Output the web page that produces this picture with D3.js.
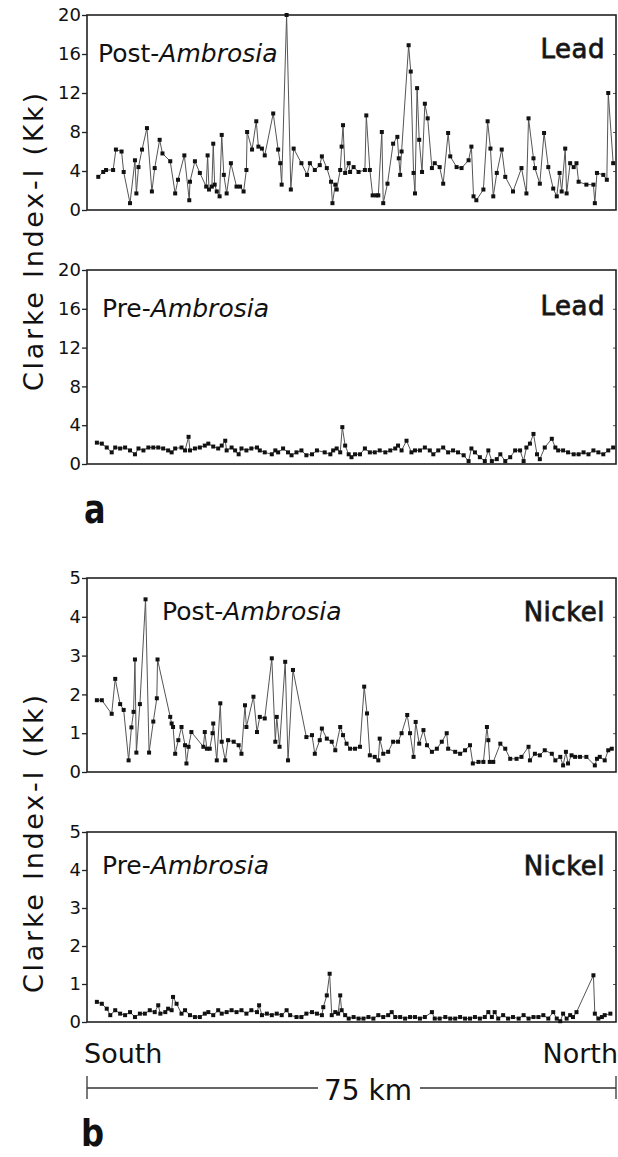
<!DOCTYPE html>
<html>
<head>
<meta charset="utf-8">
<script src="https://cdn.jsdelivr.net/npm/d3@7"></script>
<style>
  body { margin: 0; background: #fff; }
  svg text { font-family: "DejaVu Sans", sans-serif; fill: #111; }
</style>
</head>
<body>
<svg class="chart"></svg>
<script>
// sample position along the transect (km from south end) and Clarke index
var leadPost = [
  [1.6,3.4],[2.3,3.9],[2.7,4.1],[3.7,4.1],[4.1,6.2],[4.9,6.0],[5.2,3.9],[6.1,0.7],[6.8,5.1],[7.0,1.7],
  [7.3,4.4],[7.8,6.2],[8.5,8.4],[9.2,1.9],[9.6,4.3],[10.3,7.2],[10.7,5.8],[11.8,5.0],[12.5,1.7],[12.9,3.1],
  [13.8,5.6],[14.5,1.0],[14.6,2.9],[15.3,5.0],[16.0,3.8],[16.9,2.4],[17.1,5.6],[17.3,2.1],[17.7,2.4],[17.9,6.8],
  [18.1,2.6],[18.4,1.9],[18.8,1.4],[19.1,7.7],[19.4,3.6],[19.8,1.7],[20.4,4.8],[21.2,2.4],[21.7,2.4],[22.2,1.9],
  [22.6,4.1],[22.7,8.0],[23.4,6.2],[24.0,9.1],[24.3,6.5],[24.8,6.3],[25.2,5.6],[26.4,9.9],[27.1,6.2],[27.4,4.8],
  [27.6,2.6],[28.3,20],[28.9,2.1],[29.3,6.3],[30.4,4.8],[31.2,3.6],[31.6,4.8],[32.3,4.1],[33.0,4.6],[33.3,5.5],
  [34.0,4.3],[34.6,2.9],[34.8,0.7],[35.2,2.6],[35.4,2.1],[35.9,4.1],[36.1,6.5],[36.3,8.7],[36.6,3.8],[37.1,4.8],
  [37.3,3.9],[37.8,4.4],[38.5,3.9],[39.4,4.1],[39.6,9.7],[40.1,4.1],[40.5,1.5],[41.0,1.5],[41.3,1.5],[41.8,8.0],
  [42.0,0.7],[42.6,2.7],[43.4,6.8],[44.0,7.5],[44.2,5.3],[44.4,3.6],[44.6,6.0],[45.6,16.9],[45.9,14.2],[46.3,3.8],
  [46.5,1.7],[46.8,12.5],[47.1,7.2],[47.5,3.9],[47.9,10.9],[48.3,9.4],[48.9,4.3],[49.3,4.8],[50.0,4.4],[50.5,2.7],
  [51.2,7.9],[51.5,5.5],[52.4,4.4],[53.1,4.3],[54.1,5.1],[54.5,6.5],[54.8,1.4],[55.2,1.0],[56.2,2.1],[56.8,9.1],
  [57.2,6.3],[57.6,1.4],[58.1,3.8],[58.8,6.2],[59.3,3.4],[60.4,1.9],[61.6,4.3],[62.3,1.7],[62.6,9.4],[63.3,5.3],
  [63.5,4.3],[64.2,2.7],[64.8,7.9],[65.4,4.4],[66.1,2.2],[66.6,1.4],[67.0,3.8],[67.3,1.9],[67.8,6.3],[68.0,1.7],
  [68.5,4.8],[69.0,4.4],[69.4,4.8],[69.7,2.9],[70.8,2.6],[71.8,2.6],[72.0,0.7],[72.3,3.8],[73.2,3.6],[73.7,3.1],
  [73.9,12.0],[74.6,4.8]
];

var leadPre = [
  [1.4,2.2],[2.1,2.1],[2.8,1.7],[3.5,1.2],[4.0,1.7],[4.7,1.6],[5.4,1.7],[6.1,1.4],[6.8,1.0],[7.3,1.6],
  [8.0,1.4],[8.7,1.7],[9.4,1.7],[10.1,1.7],[10.8,1.6],[11.5,1.4],[12.0,1.2],[12.5,1.6],[13.4,1.7],[13.9,1.4],
  [14.4,2.8],[14.6,1.4],[15.3,1.6],[16.0,1.7],[16.7,1.9],[17.2,2.1],[17.9,1.8],[18.6,1.6],[19.1,1.9],[19.6,2.4],
  [19.8,1.4],[20.5,1.7],[21.0,1.4],[21.5,1.0],[21.9,1.6],[22.6,1.4],[23.3,1.6],[24.1,1.7],[24.5,1.4],[25.2,1.2],
  [26.2,1.0],[26.7,1.4],[27.1,1.2],[27.8,1.6],[28.5,1.2],[29.0,0.9],[29.7,1.2],[30.4,1.4],[31.1,0.9],[31.9,1.0],
  [32.6,1.4],[33.7,1.2],[34.5,1.0],[34.9,1.4],[35.4,1.6],[35.9,1.2],[36.2,3.8],[36.6,1.9],[37.1,1.0],[37.5,0.7],
  [38.0,1.0],[38.7,1.0],[39.4,1.6],[40.1,1.2],[40.8,1.2],[41.5,1.4],[42.3,1.2],[43.0,1.4],[43.7,1.6],[44.1,1.9],
  [44.6,1.4],[45.3,2.4],[46.0,1.2],[46.5,1.4],[47.2,1.4],[47.9,1.7],[48.6,1.4],[49.1,1.0],[49.8,1.4],[50.5,1.7],
  [51.2,1.2],[51.9,1.4],[52.6,1.2],[53.4,0.9],[54.1,0.3],[54.5,1.6],[55.0,1.2],[55.7,0.7],[56.4,0.3],[56.9,1.4],
  [57.4,0.3],[58.1,0.5],[58.6,1.0],[59.3,0.3],[60.0,0.7],[60.7,1.4],[61.4,1.4],[61.9,0.3],[62.3,1.7],[62.8,2.1],
  [63.3,3.1],[63.8,1.0],[64.2,0.5],[64.9,1.7],[65.9,2.6],[66.4,1.7],[66.8,1.4],[67.5,1.4],[68.2,1.2],[69.0,1.0],
  [69.7,1.0],[70.4,1.2],[71.1,1.0],[71.8,1.4],[72.5,1.2],[73.2,1.0],[73.9,1.4],[74.6,1.7]
];

var nickelPost = [
  [1.4,1.85],[2.1,1.85],[3.5,1.5],[4.0,2.4],[4.7,1.75],[5.2,1.6],[5.9,0.3],[6.3,1.15],[6.6,1.55],[6.8,2.9],
  [7.0,0.5],[7.5,1.75],[8.3,4.45],[8.8,0.5],[9.4,1.3],[9.9,1.9],[10.0,2.9],[11.8,1.42],[12.0,1.25],[12.2,1.16],
  [12.5,0.47],[12.95,0.82],[13.4,1.16],[13.9,0.69],[14.1,0.22],[14.4,0.65],[14.8,1.03],[16.5,0.65],[16.7,1.03],[17.0,0.6],
  [17.4,0.6],[17.8,1.0],[17.9,1.25],[18.4,0.3],[18.9,1.77],[19.1,0.78],[19.6,0.3],[20.0,0.82],[20.8,0.78],[21.5,0.69],
  [21.9,0.47],[22.4,1.72],[22.6,1.16],[23.6,1.94],[24.1,1.03],[24.5,1.42],[25.2,1.38],[26.2,2.93],[26.7,0.78],[26.9,1.42],
  [27.3,0.65],[28.1,2.84],[28.5,0.3],[29.2,2.63],[31.1,0.9],[31.9,0.95],[32.3,0.47],[33.0,0.82],[33.3,1.12],[34.0,0.86],
  [34.7,0.78],[35.2,0.56],[35.9,1.16],[36.3,0.95],[36.8,0.73],[37.3,0.6],[38.0,0.6],[38.7,0.65],[39.3,2.2],[39.7,1.51],
  [40.1,0.43],[40.8,0.39],[41.3,0.3],[41.5,0.86],[42.0,0.47],[42.7,0.52],[43.4,0.78],[44.1,0.78],[44.6,1.0],[45.4,1.47],
  [45.8,1.0],[46.3,0.39],[46.6,1.29],[47.1,0.73],[47.7,1.08],[48.2,0.69],[48.9,0.52],[49.6,0.6],[50.3,0.78],[51.0,1.0],
  [51.2,0.6],[52.2,0.52],[52.9,0.47],[53.6,0.56],[54.3,0.69],[54.7,0.22],[55.5,0.26],[56.2,0.26],[56.7,1.16],[56.9,0.82],
  [57.1,0.26],[57.6,0.26],[58.6,0.73],[59.3,0.6],[60.0,0.34],[60.9,0.34],[61.6,0.39],[62.6,0.65],[62.8,0.3],[63.5,0.47],
  [64.2,0.43],[64.9,0.56],[65.9,0.47],[66.4,0.3],[67.1,0.39],[67.5,0.17],[67.9,0.52],[68.2,0.22],[68.7,0.43],[69.2,0.39],
  [69.9,0.39],[70.8,0.39],[72.0,0.17],[72.3,0.34],[72.7,0.39],[73.4,0.3],[73.9,0.56],[74.4,0.6]
];

var nickelPre = [
  [1.4,0.53],[2.1,0.48],[2.8,0.35],[3.3,0.18],[4.0,0.31],[4.7,0.22],[5.4,0.18],[6.1,0.26],[6.8,0.13],[7.5,0.22],
  [8.2,0.22],[8.9,0.31],[9.6,0.26],[10.1,0.44],[10.4,0.22],[11.1,0.26],[11.5,0.35],[12.0,0.31],[12.2,0.66],[12.7,0.48],
  [13.4,0.22],[13.9,0.31],[14.6,0.18],[15.3,0.13],[16.0,0.13],[16.7,0.22],[17.2,0.26],[17.9,0.18],[18.6,0.31],[19.1,0.22],
  [19.8,0.26],[20.5,0.31],[21.2,0.26],[21.9,0.31],[22.6,0.22],[23.3,0.31],[24.1,0.26],[24.4,0.44],[24.8,0.18],[25.5,0.22],
  [26.2,0.18],[26.9,0.22],[27.6,0.18],[28.3,0.31],[28.8,0.18],[29.7,0.13],[30.4,0.13],[31.1,0.22],[31.9,0.26],[32.6,0.22],
  [33.3,0.18],[33.5,0.39],[34.0,0.7],[34.4,1.27],[34.7,0.18],[35.2,0.26],[35.6,0.22],[35.9,0.7],[36.1,0.31],[36.6,0.18],
  [37.1,0.09],[37.8,0.13],[38.5,0.09],[39.2,0.09],[39.9,0.13],[40.6,0.09],[41.3,0.18],[42.0,0.13],[42.7,0.18],[43.2,0.26],
  [43.7,0.13],[44.4,0.13],[45.1,0.09],[45.8,0.13],[46.5,0.13],[47.2,0.09],[47.9,0.13],[48.9,0.26],[49.3,0.09],[50.0,0.09],
  [50.8,0.13],[51.5,0.09],[52.2,0.09],[52.9,0.13],[53.6,0.09],[54.3,0.09],[55.0,0.13],[55.7,0.09],[56.4,0.13],[56.9,0.26],
  [57.4,0.13],[57.8,0.26],[58.3,0.09],[59.0,0.18],[59.7,0.09],[60.4,0.13],[61.2,0.09],[61.9,0.18],[62.6,0.09],[63.3,0.13],
  [64.0,0.13],[64.7,0.18],[65.4,0.09],[66.1,0.26],[66.6,0.09],[67.1,0.02],[67.5,0.22],[68.0,0.09],[68.5,0.18],[68.9,0.13],
  [69.4,0.26],[71.8,1.23],[72.0,0.22],[72.5,0.09],[73.0,0.13],[73.4,0.18],[74.2,0.22]
];

var leadTicks = [0, 4, 8, 12, 16, 20];
var nickelTicks = [0, 1, 2, 3, 4, 5];
var transectKm = 75;

const canvas = {width: 618, height: 1157};
const plot = {left: 87, right: 616};

// one entry per panel: layout only
var panels = [
  {data: leadPost,   max: 20, ticks: leadTicks,   top: 15,  bottom: 210,  pre: "Post-", elem: "Lead",   labelX: 98,  labelDy: 47, elemDy: 43},
  {data: leadPre,    max: 20, ticks: leadTicks,   top: 270, bottom: 464,  pre: "Pre-",  elem: "Lead",   labelX: 102, labelDy: 47, elemDy: 45},
  {data: nickelPost, max: 5,  ticks: nickelTicks, top: 578, bottom: 772,  pre: "Post-", elem: "Nickel", labelX: 162, labelDy: 42, elemDy: 43},
  {data: nickelPre,  max: 5,  ticks: nickelTicks, top: 832, bottom: 1022, pre: "Pre-",  elem: "Nickel", labelX: 102, labelDy: 42, elemDy: 43}
];

const x_km = d3.scaleLinear().domain([0, transectKm]).range([plot.left, plot.right]);

var svg = d3.select(".chart")
    .attr("width", canvas.width)
    .attr("height", canvas.height);

function drawPanel(p) {
    const y = d3.scaleLinear().domain([0, p.max]).range([p.bottom, p.top]);
    const g = svg.append("g").attr("class", "panel");

    // left axis with outward ticks
    const left = g.append("g")
        .attr("transform", "translate(" + plot.left + ",0)")
        .call(d3.axisLeft(y).tickValues(p.ticks).tickSize(5).tickPadding(1).tickFormat(d3.format("d")));
    left.select(".domain").remove();
    left.selectAll("line").attr("stroke", "#222").attr("stroke-width", 1.3);
    left.selectAll("text")
        .attr("font-size", 18)
        .attr("font-family", "DejaVu Sans")
        .attr("fill", "#222");

    // small inward ticks on right frame
    const right = g.append("g")
        .attr("transform", "translate(" + plot.right + ",0)")
        .call(d3.axisLeft(y).tickValues(p.ticks.slice(1, -1)).tickSize(3).tickFormat(""));
    right.select(".domain").remove();
    right.selectAll("line").attr("stroke", "#555");

    g.append("rect")
        .attr("x", plot.left)
        .attr("y", p.top)
        .attr("width", plot.right - plot.left)
        .attr("height", p.bottom - p.top)
        .attr("fill", "none")
        .attr("stroke", "#222")
        .attr("stroke-width", 1.6);

    const line = d3.line()
        .x(function (d) { return x_km(d[0]); })
        .y(function (d) { return y(d[1]); });

    g.append("path")
        .datum(p.data)
        .attr("d", line)
        .attr("fill", "none")
        .attr("stroke", "#555")
        .attr("stroke-width", 1);

    g.selectAll(".pt")
        .data(p.data)
        .enter()
        .append("rect")
        .attr("class", "pt")
        .attr("x", function (d) { return x_km(d[0]) - 2; })
        .attr("y", function (d) { return y(d[1]) - 2; })
        .attr("width", 4)
        .attr("height", 4)
        .attr("fill", "#111");

    const lab = g.append("text")
        .attr("x", p.labelX)
        .attr("y", p.top + p.labelDy)
        .attr("font-size", 25)
        .attr("fill", "#222");
    lab.append("tspan").text(p.pre);
    lab.append("tspan").attr("font-style", "italic").text("Ambrosia");

    g.append("text")
        .attr("x", plot.right - 11)
        .attr("y", p.top + p.elemDy)
        .attr("text-anchor", "end")
        .attr("font-size", 26)
        .attr("fill", "#222")
        .attr("stroke", "#222")
        .attr("stroke-width", 0.8)
        .attr("letter-spacing", 0.5)
        .text(p.elem);
}

panels.forEach(drawPanel);

// y titles, one for each element pair
[242, 844].forEach(function (cy) {
    svg.append("text")
        .attr("transform", "translate(43," + cy + ") rotate(-90)")
        .attr("text-anchor", "middle")
        .attr("font-size", 27)
        .attr("fill", "#333")
        .attr("textLength", 298)
        .attr("lengthAdjust", "spacing")
        .text("Clarke Index-I (Kk)");
});

// panel letters
svg.append("text").attr("x", 84).attr("y", 523)
    .attr("font-size", 40).attr("font-weight", "bold")
    .attr("transform", "translate(84,0) scale(0.8,1) translate(-84,0)")
    .text("a");
svg.append("text").attr("x", 81).attr("y", 1146)
    .attr("font-size", 38).attr("font-weight", "bold")
    .attr("transform", "translate(81,0) scale(0.85,1) translate(-81,0)")
    .text("b");

// transect ends and scale bar
svg.append("text").attr("x", 84).attr("y", 1063)
    .attr("font-size", 27).attr("fill", "#333").text("South");
svg.append("text").attr("x", 618).attr("y", 1063).attr("text-anchor", "end")
    .attr("font-size", 27).attr("fill", "#333").text("North");

const barY = 1088;
const bar = svg.append("g").attr("stroke", "#333").attr("stroke-width", 1.3);
bar.append("line").attr("x1", x_km(0)).attr("x2", 318).attr("y1", barY).attr("y2", barY);
bar.append("line").attr("x1", 420).attr("x2", x_km(transectKm)).attr("y1", barY).attr("y2", barY);
[0, transectKm].forEach(function (k) {
    bar.append("line").attr("x1", x_km(k)).attr("x2", x_km(k)).attr("y1", barY - 12).attr("y2", barY + 11);
});
svg.append("text").attr("x", 368).attr("y", 1100).attr("text-anchor", "middle")
    .attr("font-size", 28).attr("fill", "#333").text(transectKm + " km");
</script>
</body>
</html>
